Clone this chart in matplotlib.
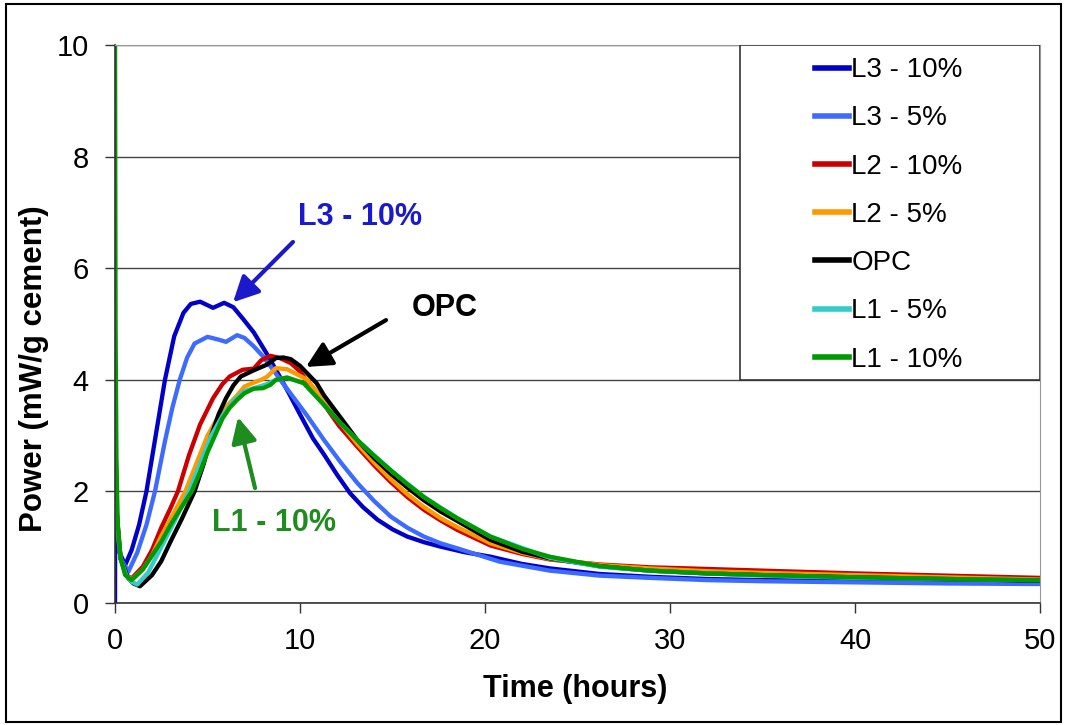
import numpy as np
import matplotlib
matplotlib.use("Agg")
import matplotlib.pyplot as plt
from matplotlib.patches import Rectangle

plt.rcParams['font.family'] = ['Liberation Sans', 'DejaVu Sans']

# series: time (hours) and power (mW/g cement)
l3_10_t = [0, 0.02, 0.1, 0.25, 0.55, 0.9, 1.3, 1.7, 2.2, 2.7, 3.2, 3.7, 4.1, 4.6, 5.3, 5.9, 6.4, 6.9,
           7.5, 8.2, 8.8, 9.4, 10.0, 10.7, 11.3, 12.0, 12.7, 13.4, 14.2, 15.0, 15.8, 16.7, 17.6, 18.9,
           20.3, 22.0, 23.5, 26.2, 28.9, 32, 35, 40, 45, 50]
l3_10_v = [0, 3.0, 1.6, 0.9, 0.68, 0.95, 1.4, 2.0, 3.0, 4.0, 4.78, 5.2, 5.36, 5.40, 5.29, 5.38, 5.30, 5.10,
           4.85, 4.47, 4.12, 3.76, 3.38, 2.95, 2.66, 2.30, 1.97, 1.72, 1.49, 1.32, 1.19, 1.09, 1.01, 0.91,
           0.83, 0.70, 0.62, 0.52, 0.47, 0.43, 0.41, 0.39, 0.37, 0.36]

l3_5_t = [0, 0.1, 0.3, 0.72, 1.2, 1.7, 2.16, 2.7, 3.1, 3.5, 3.9, 4.3, 5.0, 5.6, 6.0, 6.6, 7.0, 7.5, 8.0,
          8.5, 9.0, 9.5, 10.4, 11.3, 12.2, 13.1, 14.0, 14.9, 15.8, 16.7, 17.6, 18.5, 20.8, 23.5, 26.2,
          28.9, 32, 35, 40, 45, 50]
l3_5_v = [2.4, 1.4, 0.8, 0.56, 0.9, 1.4, 2.0, 2.9, 3.5, 4.0, 4.4, 4.65, 4.77, 4.72, 4.68, 4.80, 4.75, 4.60,
          4.42, 4.20, 3.97, 3.75, 3.35, 2.92, 2.52, 2.15, 1.83, 1.55, 1.35, 1.19, 1.07, 0.98, 0.74, 0.58,
          0.49, 0.45, 0.41, 0.39, 0.37, 0.35, 0.34]

l2_10_t = [0, 0.1, 0.3, 0.6, 0.9, 1.5, 2.0, 2.5, 3.0, 3.4, 4.0, 4.6, 5.3, 5.8, 6.2, 6.9, 7.5, 7.9, 8.4,
           8.9, 9.5, 10.0, 11.1, 12.1, 13.1, 14.0, 14.9, 15.8, 16.7, 17.6, 18.5, 20.3, 22.0, 23.5, 26.2,
           28.9, 32, 35, 40, 45, 50]
l2_10_v = [3.5, 1.6, 0.8, 0.5, 0.44, 0.65, 0.95, 1.35, 1.7, 2.0, 2.65, 3.2, 3.67, 3.92, 4.06, 4.18, 4.20,
           4.35, 4.43, 4.39, 4.30, 4.15, 3.65, 3.18, 2.80, 2.47, 2.17, 1.90, 1.67, 1.48, 1.31, 1.03, 0.88,
           0.78, 0.69, 0.64, 0.61, 0.58, 0.53, 0.49, 0.45]

l2_5_t = [0, 0.1, 0.3, 0.6, 0.9, 1.5, 2.0, 2.5, 3.0, 3.8, 4.4, 5.0, 5.6, 6.1, 6.6, 7.0, 7.5, 7.9, 8.2,
          8.7, 9.3, 10.4, 11.3, 12.2, 13.1, 14.0, 14.9, 15.8, 16.7, 17.6, 18.5, 20.3, 22.0, 23.5, 26.2,
          28.9, 32, 35, 40, 45, 50]
l2_5_v = [3.0, 1.5, 0.8, 0.5, 0.42, 0.6, 0.85, 1.2, 1.5, 2.0, 2.5, 3.0, 3.35, 3.55, 3.72, 3.88, 3.95,
          4.0, 4.05, 4.21, 4.19, 4.0, 3.62, 3.22, 2.85, 2.52, 2.22, 1.95, 1.72, 1.52, 1.36, 1.07, 0.90,
          0.79, 0.68, 0.62, 0.57, 0.54, 0.50, 0.46, 0.42]

opc_t = [0, 0.1, 0.3, 0.7, 1.0, 1.35, 2.0, 2.5, 3.0, 3.6, 4.3, 4.8, 5.2, 5.6, 6.0, 6.4, 6.8, 7.5, 8.2,
         8.7, 9.1, 9.5, 10.0, 10.9, 11.3, 12.2, 13.1, 14.0, 14.9, 15.8, 16.7, 17.6, 18.5, 20.3, 22.0,
         23.5, 26.2, 28.9, 32, 35, 40, 45, 50]
opc_v = [3.0, 1.5, 0.8, 0.45, 0.35, 0.30, 0.5, 0.75, 1.1, 1.5, 2.0, 2.5, 3.0, 3.38, 3.67, 3.9, 4.06,
         4.17, 4.27, 4.39, 4.40, 4.37, 4.25, 3.94, 3.72, 3.32, 2.92, 2.60, 2.32, 2.07, 1.84, 1.64, 1.47,
         1.13, 0.92, 0.80, 0.66, 0.58, 0.53, 0.50, 0.46, 0.43, 0.40]

l1_5_t = [0, 0.1, 0.3, 0.6, 0.9, 1.2, 1.8, 2.5, 3.2, 4.0, 4.6, 5.2, 5.8, 6.4, 7.0, 7.6, 8.2, 8.7, 9.3,
          10.2, 11.3, 12.2, 13.1, 14.9, 16.7, 18.5, 20.3, 23.5, 26.2, 28.9, 34.3, 40, 50]
l1_5_v = [3.0, 1.5, 0.8, 0.5, 0.38, 0.33, 0.55, 1.0, 1.45, 2.0, 2.5, 3.0, 3.35, 3.62, 3.8, 3.86, 3.92,
          4.0, 4.04, 3.94, 3.55, 3.22, 2.92, 2.38, 1.90, 1.52, 1.19, 0.81, 0.65, 0.58, 0.50, 0.45, 0.41]

l1_10_t = [0, 0.03, 0.08, 0.15, 0.3, 0.55, 0.9, 1.5, 2.0, 2.5, 3.0, 3.6, 4.15, 4.6, 5.0, 5.4, 5.8, 6.2,
           6.6, 7.0, 7.5, 8.0, 8.4, 8.7, 9.3, 10.2, 11.3, 12.2, 13.1, 14.0, 14.9, 15.8, 16.7, 17.6, 18.5,
           20.3, 22.0, 23.5, 26.2, 28.9, 32, 35, 40, 45, 50]
l1_10_v = [10.5, 5.0, 2.5, 1.4, 0.8, 0.5, 0.41, 0.6, 0.85, 1.1, 1.4, 1.72, 2.0, 2.35, 2.7, 3.0, 3.3, 3.5,
           3.64, 3.76, 3.84, 3.85, 3.91, 4.0, 4.04, 3.94, 3.55, 3.22, 2.92, 2.64, 2.38, 2.13, 1.90, 1.70,
           1.52, 1.19, 0.97, 0.83, 0.66, 0.58, 0.53, 0.50, 0.46, 0.43, 0.41]

labels = ["L3 - 10%", "L3 - 5%", "L2 - 10%", "L2 - 5%", "OPC", "L1 - 5%", "L1 - 10%"]
colors = ["#0000C8", "#3D6BFF", "#CC0000", "#FF9900", "#000000", "#33CCCC", "#009900"]
series = [(l3_10_t, l3_10_v), (l3_5_t, l3_5_v), (l2_10_t, l2_10_v), (l2_5_t, l2_5_v),
          (opc_t, opc_v), (l1_5_t, l1_5_v), (l1_10_t, l1_10_v)]

# callout labels: text, text position, arrow tail, arrow tip, colour
callouts = [("L3 - 10%", (13.24, 6.91), (9.62, 6.47), (6.38, 5.39), "#1A1ACC"),
            ("OPC", (17.84, 5.28), (14.65, 5.07), (10.32, 4.23), "black"),
            ("L1 - 10%", (8.6, 1.43), (7.57, 2.06), (6.65, 3.33), "#1E8C1E")]

fig = plt.figure(figsize=(10.67, 7.25), dpi=100)
ax = fig.add_axes([115/1067, 122/725, 925/1067, 558/725])

for (t, v), lab, c in zip(series, labels, colors):
    ax.plot(t, v, color=c, lw=3.1, label=lab, solid_joinstyle='round')

ax.set_xlim(0, 50)
ax.set_ylim(0, 10)
ax.set_xticks(np.arange(0, 51, 10))
ax.set_yticks(np.arange(0, 11, 2))
ax.yaxis.grid(True, color='#444444', lw=1.0)
ax.set_axisbelow(True)
for s in ['top', 'right']:
    ax.spines[s].set_color('#999999')
for s in ['left', 'bottom']:
    ax.spines[s].set_color('#333333')
    ax.spines[s].set_linewidth(1.2)
ax.tick_params(axis='both', direction='out', length=7, width=1.0, color='#333333', labelsize=21)
ax.tick_params(axis='y', pad=12)
ax.tick_params(axis='x', pad=10)
ax.set_xlabel("Time (hours)", fontsize=22, fontweight='bold')
ax.set_ylabel("Power (mW/g cement)", fontsize=22.5, fontweight='bold')
ax.xaxis.set_label_coords(0.497, -0.128)
ax.yaxis.set_label_coords(-0.071, 0.42)

# legend box
ax.add_patch(Rectangle((0.6757, 0.3996), 0.3243, 0.6004, transform=ax.transAxes,
                       fill=True, facecolor='white', edgecolor='#333333', lw=1.2, zorder=4))
leg = ax.legend(loc='upper left', bbox_to_anchor=(0.757, 0.978), frameon=False, fontsize=20,
                handlelength=1.2, handletextpad=0.1, labelspacing=0.8, borderpad=0, borderaxespad=0)
leg.set_zorder(5)
for h in leg.get_lines():
    h.set_linewidth(4)

# annotations
for txt, pos, tail, tip, c in callouts:
    ax.text(pos[0], pos[1], txt, color=c, fontsize=22, fontweight='bold', ha='center', va='center')
    ax.annotate("", xy=tip, xytext=tail,
                arrowprops=dict(arrowstyle='-|>,head_length=0.7,head_width=0.35', color=c, lw=3,
                                mutation_scale=22, shrinkA=0, shrinkB=0))

# outer frame
fig.add_artist(Rectangle((0.006, 0.004), 0.988, 0.99, transform=fig.transFigure, fill=False,
                         edgecolor='black', lw=1.5))

fig.savefig("out.png", dpi=100)
